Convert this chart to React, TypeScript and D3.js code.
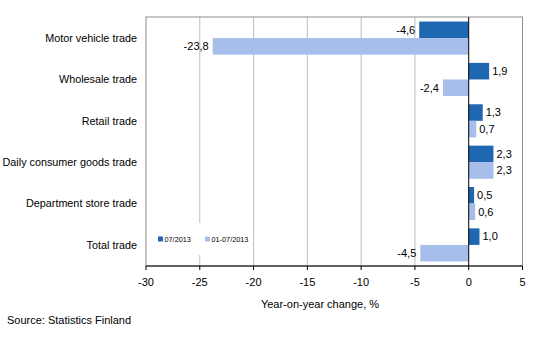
import React from "react";
import * as d3 from "d3";

const categories = [
  "Motor vehicle trade",
  "Wholesale trade",
  "Retail trade",
  "Daily consumer goods trade",
  "Department store trade",
  "Total trade",
];
const seriesMonth = [-4.6, 1.9, 1.3, 2.3, 0.5, 1.0];
const seriesYtd = [-23.8, -2.4, 0.7, 2.3, 0.6, -4.5];
const seriesNames = ["07/2013", "01-07/2013"];
const xTicks = [-30, -25, -20, -15, -10, -5, 0, 5];

const W = 534;
const H = 360;
const left = 146;
const right = 522.5;
const top = 17;
const bottom = 266;
const colors = ["#1F67B0", "#A7BDEA"];
const font = "'Liberation Sans', Arial, sans-serif";

export default function App() {
  const x = d3.scaleLinear().domain([-30, 5]).range([left, right]);
  const y = d3.scaleBand<string>().domain(categories).range([top, bottom]).paddingInner(0.2).paddingOuter(0.11);
  const bh = y.bandwidth() / 2;
  const fmt = (v: number) => v.toFixed(1).replace(".", ",");
  const series = [seriesMonth, seriesYtd];

  return (
    <svg width={W} height={H} style={{ position: "absolute", left: 0, top: 0, background: "#fff" }} fontFamily={font}>
      <rect x={0} y={0} width={W} height={H} fill="#fff" />
      {xTicks.filter((t) => t !== 0 && t !== -30 && t !== 5).map((t) => (
        <line key={t} x1={x(t)} x2={x(t)} y1={top} y2={bottom} stroke="#BDBDBD" strokeWidth={1} />
      ))}
      <rect x={left} y={top} width={right - left} height={bottom - top} fill="none" stroke="#8C8C8C" strokeWidth={1} />
      <rect x={153} y={223} width={92} height={32} fill="#fff" />
      {categories.map((c, i) =>
        series.map((s, k) => {
          const v = s[i];
          const y0 = (y(c) as number) + k * bh;
          const x0 = Math.min(x(0), x(v));
          const w = Math.abs(x(v) - x(0));
          return (
            <g key={c + k}>
              <rect x={x0} y={y0} width={w} height={bh} fill={colors[k]} />
              <text
                x={v < 0 ? x(v) - 4 : x(v) + 3}
                y={y0 + bh / 2}
                dy="0.35em"
                fontSize={11}
                textAnchor={v < 0 ? "end" : "start"}
                fill="#000"
              >
                {fmt(v)}
              </text>
            </g>
          );
        })
      )}
      <line x1={x(0)} x2={x(0)} y1={top} y2={bottom} stroke="#000" strokeWidth={1} />
      <line x1={left} x2={right} y1={bottom} y2={bottom} stroke="#000" strokeWidth={1} />
      {xTicks.map((t) => (
        <g key={t}>
          <line x1={x(t)} x2={x(t)} y1={bottom} y2={bottom + 4} stroke="#000" />
          <text x={x(t)} y={bottom + 16} dy="0.35em" fontSize={11} textAnchor="middle" fill="#000">
            {t}
          </text>
        </g>
      ))}
      {categories.map((c) => (
        <text
          key={c}
          x={137}
          y={(y(c) as number) + y.bandwidth() / 2}
          dy="0.35em"
          fontSize={10.8}
          textAnchor="end"
          fill="#000"
        >
          {c}
        </text>
      ))}
      {seriesNames.map((n, k) => (
        <g key={n} transform={`translate(${158 + k * 47},239)`}>
          <rect x={0} y={-2.5} width={5} height={5} fill={colors[k]} />
          <text x={6.5} y={0} dy="0.35em" fontSize={7.3} fill="#000">
            {n}
          </text>
        </g>
      ))}
      <text x={320} y={304} dy="0.35em" fontSize={11} textAnchor="middle" fill="#000">
        Year-on-year change, %
      </text>
      <text x={7} y={320} dy="0.35em" fontSize={11} fill="#000">
        Source: Statistics Finland
      </text>
    </svg>
  );
}
